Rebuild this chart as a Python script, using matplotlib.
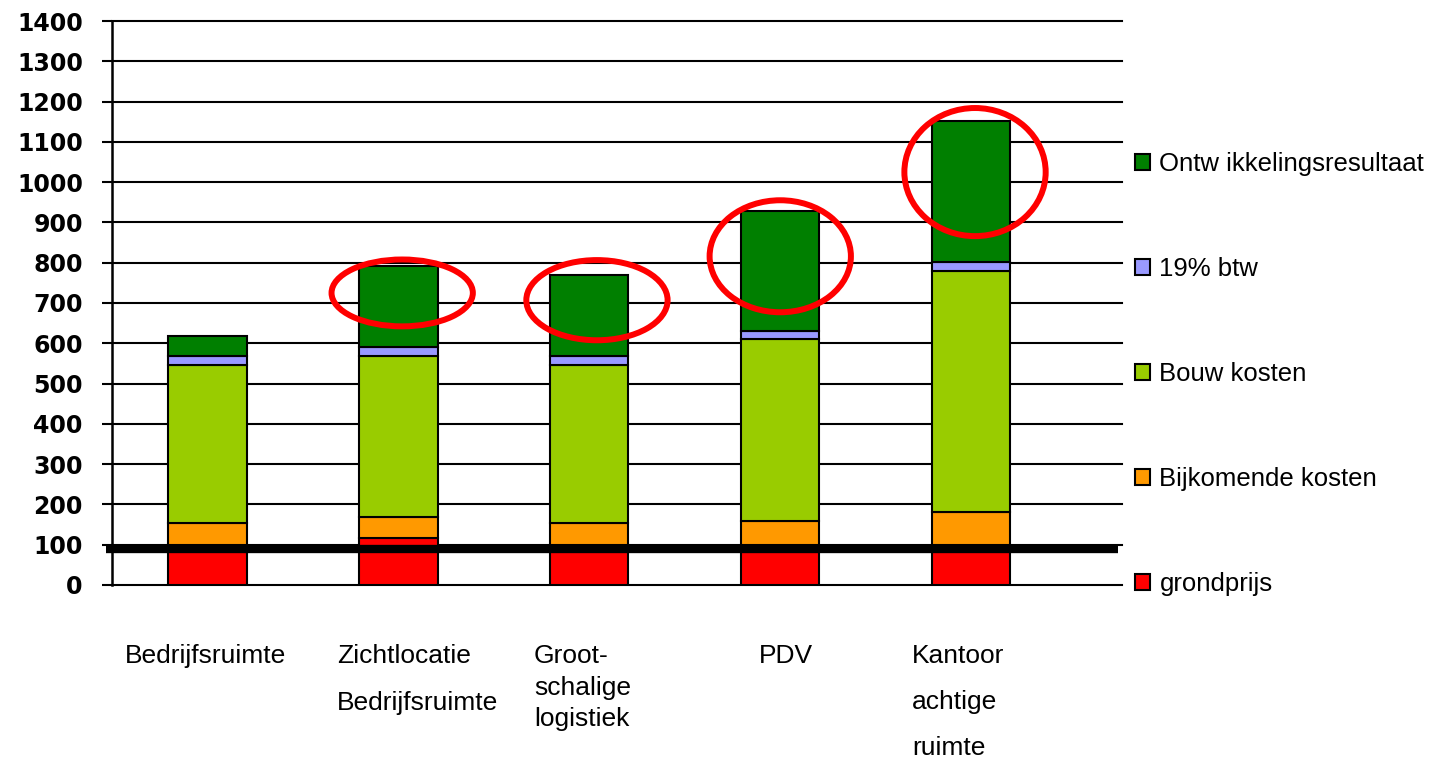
import matplotlib
matplotlib.use("Agg")
import matplotlib.pyplot as plt
import matplotlib.transforms as mtransforms
from matplotlib.patches import Patch, Ellipse
from matplotlib.lines import Line2D
import numpy as np

plt.rcParams['font.family'] = ['Liberation Sans', 'DejaVu Sans']

# categories (x axis)
categories = ["Bedrijfsruimte", "Zichtlocatie\nBedrijfsruimte", "Groot-\nschalige\nlogistiek",
              "PDV", "Kantoor\nachtige\nruimte"]

# stacked series, bottom to top
grondprijs = [100, 117, 100, 100, 100]
bijkomende_kosten = [53, 52, 53, 60, 82]
bouwkosten = [393, 399, 393, 450, 598]
btw = [23, 23, 23, 20, 22]
ontwikkelingsresultaat = [48, 200, 200, 298, 350]

series_labels = ["grondprijs", "Bijkomende kosten", "Bouw kosten", "19% btw",
                 "Ontw ikkelingsresultaat"]
series_colors = ["#FF0000", "#FF9900", "#99CC00", "#9999FF", "#007F00"]

yticks = list(range(0, 1500, 100))

# highlighted results: (category index, x offset, y centre, height)
highlights = [(1, 0.02, 725, 166), (2, 0.04, 707, 199), (3, 0.0, 816, 278), (4, 0.02, 1025, 318)]

# thick reference line
ref_level = 89

fig = plt.figure(figsize=(14.54, 7.61), dpi=100)
ax = fig.add_axes([0.077, 0.2313, 0.6947, 0.7411])

x = np.arange(len(categories))
stack = [grondprijs, bijkomende_kosten, bouwkosten, btw, ontwikkelingsresultaat]
bottom = np.zeros(len(categories))
handles = []
for vals, lab, col in zip(stack, series_labels, series_colors):
    ax.bar(x, vals, bottom=bottom, width=0.41, color=col, edgecolor="black",
           linewidth=1.5, zorder=3)
    bottom += np.array(vals)
    handles.append(Patch(facecolor=col, edgecolor="black", linewidth=1.5, label=lab))

ax.set_xlim(-0.5, 4.79)
ax.set_ylim(0, 1400)
ax.set_yticks(yticks)
ax.set_yticklabels([str(v) for v in yticks], fontsize=17, fontweight="bold",
                   family="DejaVu Sans")
ax.tick_params(axis="y", length=7, width=1.5, pad=14)
ax.set_xticks([])
ax.yaxis.grid(True, color="black", linewidth=1.5, zorder=0)
ax.set_axisbelow(True)
for gl in ax.get_ygridlines():
    gl.set_clip_on(False)
for s in ["top", "right", "bottom"]:
    ax.spines[s].set_visible(False)
ax.spines["left"].set_linewidth(1.8)

# category labels, left aligned blocks under the bars
label_dx = [-0.43, -0.32, -0.29, -0.11, -0.31]
label_ls = [2.2, 2.2, 1.4, 2.2, 2.15]
trans = mtransforms.blended_transform_factory(ax.transData, ax.transAxes)
for i, cat in enumerate(categories):
    ax.text(x[i] + label_dx[i], -0.105, cat, transform=trans, ha="left", va="top",
            fontsize=19, linespacing=label_ls[i])

# thick black line just under 100
ax.add_line(Line2D([-0.006, 0.996], [ref_level, ref_level], transform=ax.get_yaxis_transform(),
                   color="black", linewidth=6, solid_capstyle="butt",
                   clip_on=False, zorder=5))

# red circles around the results
for i, dx, yc, h in highlights:
    ax.add_patch(Ellipse((x[i] + dx, yc), 0.74, h, fill=False, edgecolor="#FF0000",
                         linewidth=4.3, zorder=6, clip_on=False))

fig.legend(handles=handles[::-1], loc="center left", bbox_to_anchor=(0.7806, 0.5085),
           frameon=False, fontsize=18.5, handlelength=0.6, handleheight=0.6,
           handletextpad=0.35, labelspacing=3.15, borderpad=0, borderaxespad=0)

fig.savefig("out.png", dpi=100)
